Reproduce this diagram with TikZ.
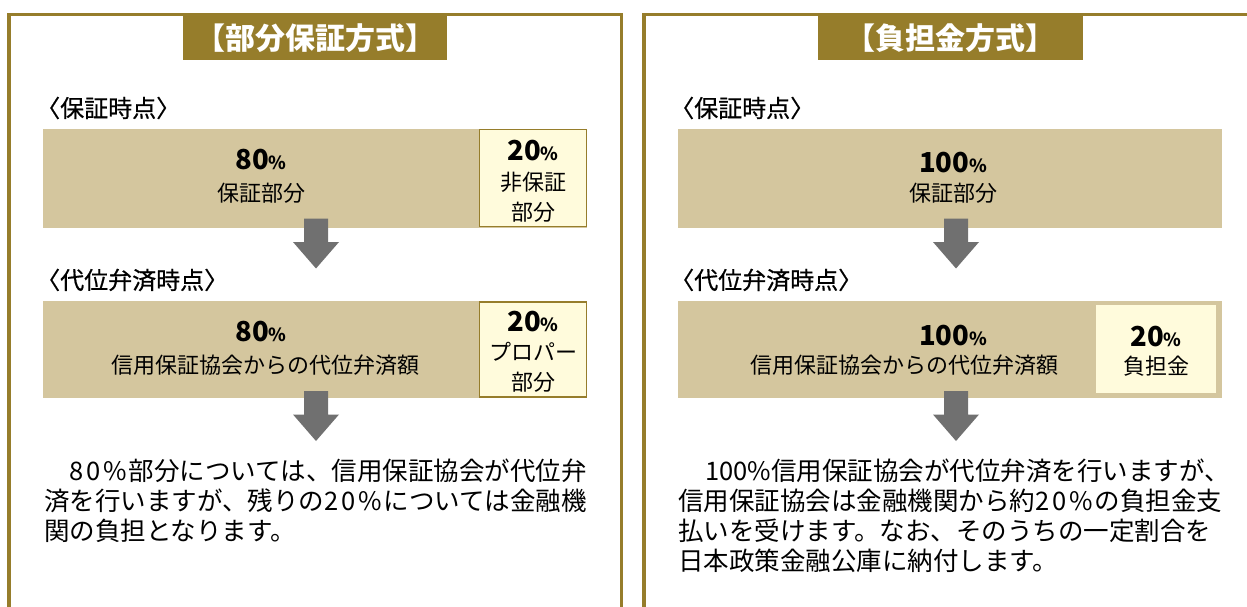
\documentclass[tikz,border=0pt]{standalone}
\usepackage{fontspec}
\setmainfont{Noto Sans CJK JP}
\newfontfamily\labfont[FakeBold=0.6]{Noto Sans CJK JP}
\definecolor{goldframe}{RGB}{150,125,43}
\definecolor{tanbar}{RGB}{212,198,158}
\definecolor{lightcell}{RGB}{255,251,220}
\definecolor{arrowgray}{RGB}{112,112,112}
\newcommand\fsz[1]{\fontsize{#1}{#1}\selectfont}
\newcommand\pcent{{\fsz{18}\%}}
\newcommand\sppct[2]{#1\kern3pt#2\kern3pt\%\kern2pt}
\tikzset{
  frame/.style={draw=goldframe, line width=3.3pt},
  titlebox/.style={fill=goldframe, text=white, font=\bfseries\fsz{30}, minimum width=264, minimum height=44, inner sep=0},
  lab/.style={anchor=west, inner sep=0, font=\labfont\fsz{24}},
  bar/.style={fill=tanbar, inner sep=0},
  cellbox/.style={fill=lightcell, inner sep=0},
  txt/.style={inner sep=0, font=\fsz{22}},
  pct/.style={inner sep=0, font=\bfseries\fsz{27.5}},
  para/.style={anchor=west, inner sep=0, font=\fsz{25.5}},
  blockarrow/.pic={\fill[arrowgray] (-12,0) -- (12,0) -- (12,23.5) -- (23,23.5) -- (0,50) -- (-23,23.5) -- (-12,23.5) -- cycle;}
}
\begin{document}
\begin{tikzpicture}[x=1pt,y=-1pt]
\useasboundingbox[fill=white] (0,0) rectangle (1247,607);
% frames
\draw[frame] (9,607) -- (9,14.3) -- (621.5,14.3) -- (621.5,607);
\draw[frame] (644,607) -- (644,14.3) -- (1247,14.3);
% ---------------- left panel
\node[titlebox] (t1) at (315,38) {【部分保証方式】};
\node[lab] (l1) at (36,108) {〈保証時点〉};
\node[bar, minimum width=544, minimum height=99] (b1) at (315,178.5) {};
\node[cellbox, draw=goldframe, line width=1.5pt, minimum width=107, minimum height=97] (c1) at (533,178) {};
\node[pct] (b1p) at (261,160) {80\pcent};
\node[txt] (b1t) at (261,193) {保証部分};
\node[pct] (c1p) at (533,151) {20\pcent};
\node[txt] (c1a) at (533,182) {非保証};
\node[txt] (c1b) at (533,212) {部分};
\pic at (316,218.5) {blockarrow};
\node[lab] (l2) at (36,280) {〈代位弁済時点〉};
\node[bar, minimum width=544, minimum height=97] (b2) at (315,349.5) {};
\node[cellbox, draw=goldframe, line width=1.5pt, minimum width=107, minimum height=95] (c2) at (533,349.5) {};
\node[pct] (b2p) at (261,332) {80\pcent};
\node[txt] (b2t) at (265,365) {信用保証協会からの代位弁済額};
\node[pct] (c2p) at (533,322) {20\pcent};
\node[txt] (c2a) at (533,352) {プロパー};
\node[txt] (c2b) at (533,382) {部分};
\pic at (316,391) {blockarrow};
\node[para] (p1) at (69,471) {\sppct{8}{0}部分については、信用保証協会が代位弁};
\node[para] (p2) at (44,501) {済を行いますが、残りの\sppct{2}{0}については金融機};
\node[para] (p3) at (44,531) {関の負担となります。};
% ---------------- right panel
\node[titlebox, minimum width=265] (t2) at (950,38) {【負担金方式】};
\node[lab] (l3) at (670,108) {〈保証時点〉};
\node[bar, minimum width=544, minimum height=99] (b3) at (950,178.5) {};
\node[pct] (b3p) at (953,163) {100\pcent};
\node[txt] (b3t) at (953,193) {保証部分};
\pic at (956,218.5) {blockarrow};
\node[lab] (l4) at (670,280) {〈代位弁済時点〉};
\node[bar, minimum width=544, minimum height=97] (b4) at (950,349.5) {};
\node[cellbox, minimum width=120, minimum height=88] (c4) at (1156,349) {};
\node[pct] (b4p) at (953,336) {100\pcent};
\node[txt] (b4t) at (904,365) {信用保証協会からの代位弁済額};
\node[pct] (c4p) at (1156,337) {20\pcent};
\node[txt] (c4a) at (1156,366) {負担金};
\pic at (956,391) {blockarrow};
\node[para] (q1) at (705,471) {100\%信用保証協会が代位弁済を行いますが、};
\node[para] (q2) at (678,501) {信用保証協会は金融機関から約\sppct{2}{0}の負担金支};
\node[para] (q3) at (678,531) {払いを受けます。なお、そのうちの一定割合を};
\node[para] (q4) at (678,561) {日本政策金融公庫に納付します。};
\end{tikzpicture}
\end{document}
